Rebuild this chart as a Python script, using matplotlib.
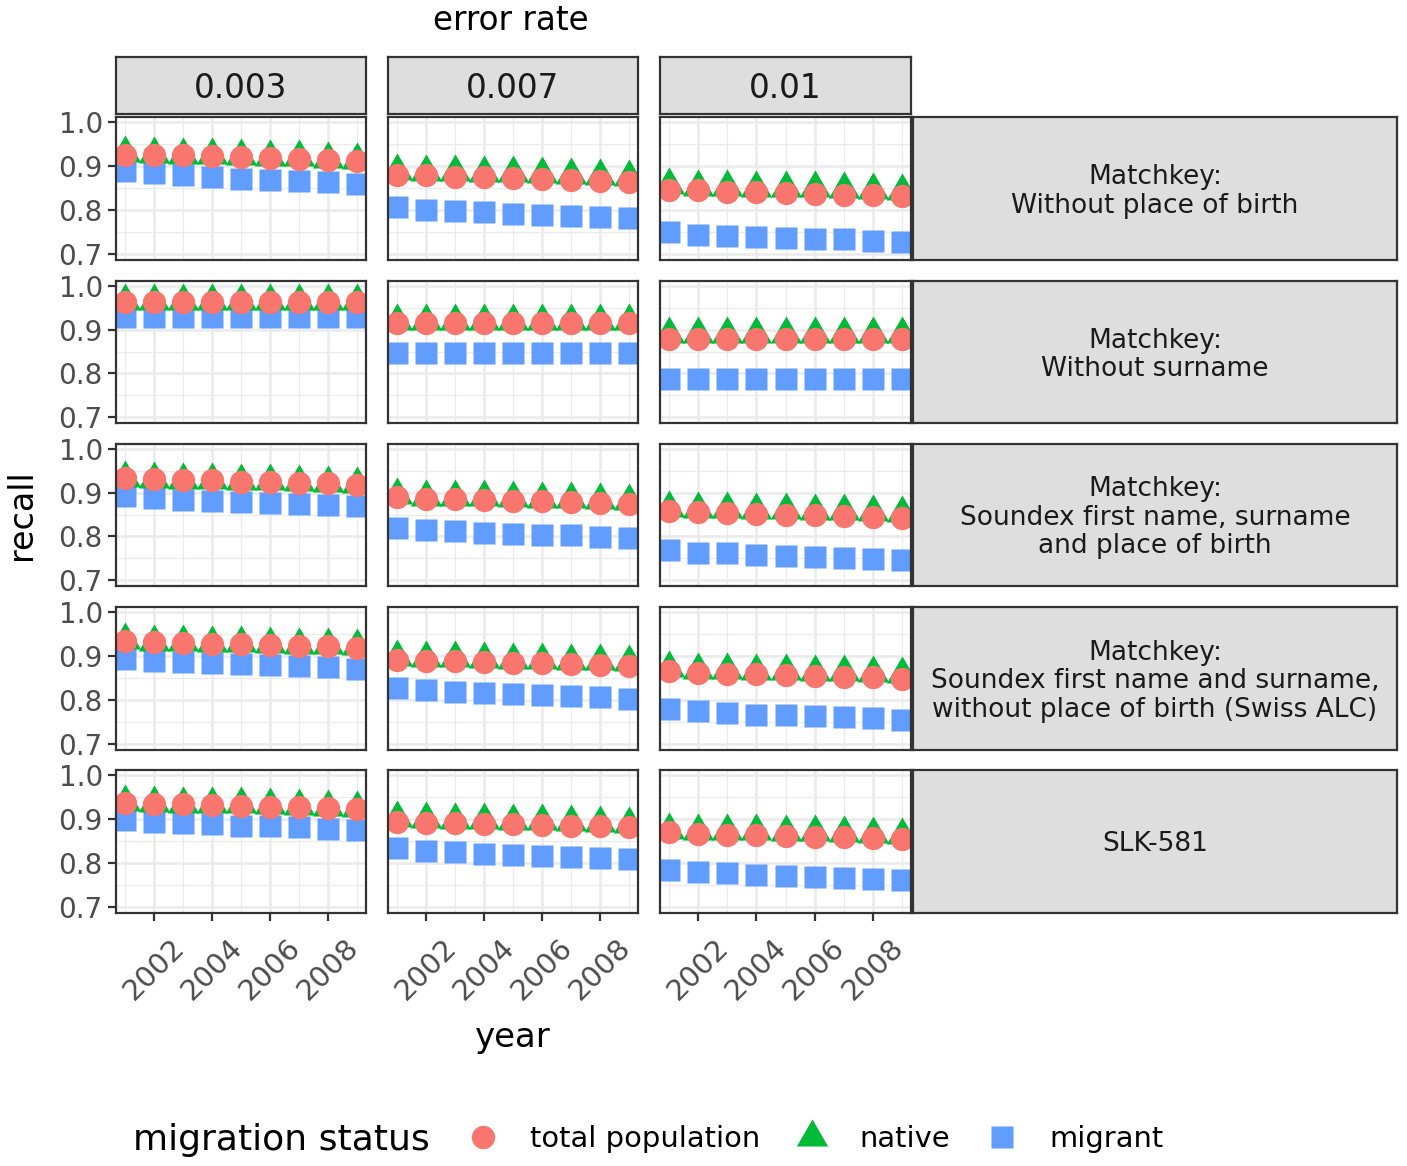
import numpy as np
import matplotlib
matplotlib.use("Agg")
import matplotlib.pyplot as plt
from matplotlib.path import Path
from matplotlib.lines import Line2D
from matplotlib.ticker import FixedLocator

# ---------------- data ----------------
years = [2001, 2002, 2003, 2004, 2005, 2006, 2007, 2008, 2009]
error_rates = ["0.003", "0.007", "0.01"]
matchkeys = [
    "Matchkey:\nWithout place of birth",
    "Matchkey:\nWithout surname",
    "Matchkey:\nSoundex first name, surname\nand place of birth",
    "Matchkey:\nSoundex first name and surname,\nwithout place of birth (Swiss ALC)",
    "SLK-581",
]
status_labels = ["total population", "native", "migrant"]
status_colors = ["#F8766D", "#00BA38", "#619CFF"]

# each: one list per error rate (0.003, 0.007, 0.01)
total_no_pob = [
    [0.926, 0.925, 0.924, 0.922, 0.921, 0.919, 0.917, 0.914, 0.911],
    [0.880, 0.879, 0.876, 0.875, 0.873, 0.871, 0.869, 0.867, 0.864],
    [0.846, 0.845, 0.842, 0.841, 0.839, 0.837, 0.835, 0.833, 0.831],
]
native_no_pob = [
    [0.930, 0.928, 0.926, 0.925, 0.923, 0.921, 0.920, 0.917, 0.914],
    [0.889, 0.887, 0.886, 0.884, 0.883, 0.881, 0.880, 0.878, 0.876],
    [0.857, 0.853, 0.852, 0.851, 0.850, 0.849, 0.848, 0.846, 0.843],
]
migrant_no_pob = [
    [0.889, 0.883, 0.880, 0.875, 0.871, 0.869, 0.867, 0.864, 0.860],
    [0.806, 0.801, 0.798, 0.795, 0.792, 0.789, 0.787, 0.784, 0.782],
    [0.751, 0.744, 0.742, 0.738, 0.736, 0.734, 0.733, 0.729, 0.727],
]

total_no_surname = [
    [0.963, 0.963, 0.963, 0.963, 0.963, 0.963, 0.963, 0.963, 0.963],
    [0.915, 0.915, 0.915, 0.915, 0.915, 0.915, 0.915, 0.915, 0.915],
    [0.879, 0.879, 0.879, 0.879, 0.879, 0.879, 0.879, 0.879, 0.879],
]
native_no_surname = [
    [0.966, 0.966, 0.966, 0.966, 0.966, 0.966, 0.966, 0.966, 0.966],
    [0.920, 0.920, 0.920, 0.920, 0.920, 0.920, 0.920, 0.920, 0.920],
    [0.889, 0.889, 0.889, 0.889, 0.889, 0.889, 0.889, 0.889, 0.889],
]
migrant_no_surname = [
    [0.928, 0.928, 0.928, 0.928, 0.928, 0.928, 0.928, 0.928, 0.928],
    [0.846, 0.846, 0.846, 0.846, 0.846, 0.846, 0.846, 0.846, 0.846],
    [0.787, 0.787, 0.787, 0.787, 0.787, 0.787, 0.787, 0.787, 0.787],
]

total_soundex_pob = [
    [0.933, 0.931, 0.930, 0.928, 0.925, 0.924, 0.923, 0.921, 0.918],
    [0.889, 0.886, 0.885, 0.883, 0.881, 0.880, 0.878, 0.876, 0.873],
    [0.858, 0.855, 0.854, 0.852, 0.850, 0.849, 0.847, 0.845, 0.843],
]
native_soundex_pob = [
    [0.934, 0.932, 0.930, 0.929, 0.927, 0.926, 0.924, 0.923, 0.920],
    [0.895, 0.891, 0.890, 0.889, 0.888, 0.886, 0.886, 0.883, 0.881],
    [0.866, 0.862, 0.862, 0.861, 0.860, 0.858, 0.857, 0.855, 0.853],
]
migrant_soundex_pob = [
    [0.892, 0.887, 0.884, 0.881, 0.879, 0.877, 0.875, 0.872, 0.869],
    [0.820, 0.814, 0.812, 0.808, 0.806, 0.804, 0.802, 0.799, 0.796],
    [0.769, 0.763, 0.761, 0.757, 0.755, 0.753, 0.751, 0.748, 0.745],
]

total_swiss_alc = [
    [0.933, 0.931, 0.930, 0.928, 0.927, 0.925, 0.923, 0.922, 0.919],
    [0.892, 0.889, 0.888, 0.886, 0.885, 0.884, 0.882, 0.880, 0.878],
    [0.865, 0.861, 0.860, 0.858, 0.856, 0.855, 0.853, 0.852, 0.848],
]
native_swiss_alc = [
    [0.936, 0.932, 0.932, 0.930, 0.929, 0.927, 0.926, 0.924, 0.922],
    [0.898, 0.896, 0.895, 0.893, 0.892, 0.891, 0.889, 0.888, 0.886],
    [0.872, 0.868, 0.868, 0.866, 0.866, 0.864, 0.864, 0.861, 0.858],
]
migrant_swiss_alc = [
    [0.894, 0.889, 0.886, 0.883, 0.881, 0.879, 0.877, 0.874, 0.871],
    [0.827, 0.822, 0.819, 0.815, 0.813, 0.811, 0.809, 0.806, 0.803],
    [0.780, 0.774, 0.770, 0.767, 0.765, 0.763, 0.761, 0.758, 0.755],
]

total_slk581 = [
    [0.936, 0.934, 0.933, 0.931, 0.930, 0.928, 0.927, 0.924, 0.922],
    [0.894, 0.892, 0.890, 0.889, 0.888, 0.886, 0.885, 0.883, 0.881],
    [0.870, 0.866, 0.864, 0.863, 0.861, 0.860, 0.858, 0.856, 0.854],
]
native_slk581 = [
    [0.939, 0.936, 0.935, 0.934, 0.933, 0.931, 0.930, 0.928, 0.926],
    [0.902, 0.900, 0.898, 0.897, 0.895, 0.895, 0.893, 0.891, 0.889],
    [0.876, 0.873, 0.873, 0.872, 0.870, 0.870, 0.868, 0.866, 0.864],
]
migrant_slk581 = [
    [0.898, 0.893, 0.890, 0.888, 0.885, 0.883, 0.881, 0.878, 0.875],
    [0.833, 0.827, 0.824, 0.821, 0.819, 0.816, 0.814, 0.812, 0.809],
    [0.785, 0.780, 0.777, 0.773, 0.771, 0.769, 0.766, 0.764, 0.761],
]

total_rows = [total_no_pob, total_no_surname, total_soundex_pob, total_swiss_alc, total_slk581]
native_rows = [native_no_pob, native_no_surname, native_soundex_pob, native_swiss_alc, native_slk581]
migrant_rows = [migrant_no_pob, migrant_no_surname, migrant_soundex_pob, migrant_swiss_alc, migrant_slk581]

x_ticks = [2002, 2004, 2006, 2008]
y_ticks = [0.7, 0.8, 0.9, 1.0]

# ---------------- layout ----------------
W, H = 1407, 1166
fig = plt.figure(figsize=(W / 100, H / 100), dpi=100)
fig.patch.set_facecolor("white")


def rect(x0, y0, x1, y1):
    return [x0 / W, 1 - y1 / H, (x1 - x0) / W, (y1 - y0) / H]


col_x = [(116, 366), (388, 638), (660, 911)]
row_y = [(117, 260), (281, 423), (444, 586), (607, 750), (770, 913)]
strip_fill = "#DEDEDE"
border_col = "#333333"
grid_col = "#EBEBEB"
tick_col = "#4D4D4D"

# centroid-centred equilateral triangle (like R's pch 17)
tri = Path([(0, 2 / np.sqrt(3)), (1, -1 / np.sqrt(3)), (-1, -1 / np.sqrt(3)), (0, 2 / np.sqrt(3))],
           [Path.MOVETO, Path.LINETO, Path.LINETO, Path.CLOSEPOLY])

ms_circle, ms_tri, ms_sq = 16.8, 26, 15.8

for r in range(5):
    for c in range(3):
        ax = fig.add_axes(rect(col_x[c][0], row_y[r][0], col_x[c][1], row_y[r][1]))
        ax.set_xlim(2000.69, 2009.31)
        ax.set_ylim(0.6864, 1.0114)
        ax.xaxis.set_major_locator(FixedLocator(x_ticks))
        ax.xaxis.set_minor_locator(FixedLocator([2001, 2003, 2005, 2007, 2009]))
        ax.yaxis.set_major_locator(FixedLocator(y_ticks))
        ax.yaxis.set_minor_locator(FixedLocator([0.75, 0.85, 0.95]))
        ax.grid(which="major", color=grid_col, lw=1.8)
        ax.grid(which="minor", color=grid_col, lw=0.9)
        ax.set_axisbelow(True)
        for s in ax.spines.values():
            s.set_color(border_col)
            s.set_linewidth(1.6)
            s.set_zorder(5)
        ax.tick_params(which="minor", length=0)
        ax.tick_params(which="major", color=border_col, width=1.6, length=6,
                       labelsize=20, labelcolor=tick_col)
        if c == 0:
            ax.set_yticklabels([f"{v:.1f}" for v in y_ticks])
            ax.tick_params(axis="y", pad=3.5)
        else:
            ax.tick_params(axis="y", length=0, labelleft=False)
        if r == 4:
            ax.set_xticklabels([str(v) for v in x_ticks], rotation=45, ha="center", va="top")
            ax.tick_params(axis="x", pad=8.5, labelsize=21)
        else:
            ax.tick_params(axis="x", length=0, labelbottom=False)

        ax.plot(years, migrant_rows[r][c], ls="none", marker="s", ms=ms_sq,
                mfc=status_colors[2], mec="none", zorder=2)
        ax.plot(years, native_rows[r][c], ls="none", marker=tri, ms=ms_tri,
                mfc=status_colors[1], mec="none", zorder=3)
        ax.plot(years, total_rows[r][c], ls="none", marker="o", ms=ms_circle,
                mfc=status_colors[0], mec="none", zorder=4)

# top strips
for c in range(3):
    sa = fig.add_axes(rect(col_x[c][0], 57, col_x[c][1], 114))
    sa.set_facecolor(strip_fill)
    sa.set_xticks([]); sa.set_yticks([])
    for s in sa.spines.values():
        s.set_color(border_col); s.set_linewidth(1.6)
    sa.text(0.5, 0.44, error_rates[c], ha="center", va="center", fontsize=23.5,
            color="#1A1A1A", transform=sa.transAxes)

# right strips
for r in range(5):
    sa = fig.add_axes(rect(913, row_y[r][0], 1397, row_y[r][1]))
    sa.set_facecolor(strip_fill)
    sa.set_xticks([]); sa.set_yticks([])
    for s in sa.spines.values():
        s.set_color(border_col); s.set_linewidth(1.6)
    sa.text(0.5, 0.48, matchkeys[r], ha="center", va="center", fontsize=19,
            color="#1A1A1A", linespacing=1.12, multialignment="center",
            transform=sa.transAxes)

# titles
fig.text(511 / W, 1 - 20 / H, "error rate", ha="center", va="center", fontsize=23.5)
fig.text(22 / W, 1 - 515 / H, "recall", ha="center", va="center", rotation=90, fontsize=24)
fig.text(513 / W, 1 - 1038 / H, "year", ha="center", va="center", fontsize=24.5)

# legend
fig.text(133 / W, 1 - 1140 / H, "migration status", ha="left", va="center", fontsize=26)
handles = [
    Line2D([], [], ls="none", marker="o", ms=ms_circle, mfc=status_colors[0], mec="none"),
    Line2D([], [], ls="none", marker=tri, ms=ms_tri, mfc=status_colors[1], mec="none"),
    Line2D([], [], ls="none", marker="s", ms=ms_sq, mfc=status_colors[2], mec="none"),
]
fig.legend(handles, status_labels, loc="center left",
           bbox_to_anchor=(468.5 / W, 1 - 1139 / H), ncol=3, frameon=False,
           fontsize=20.9, handlelength=1.0, handletextpad=1.12, columnspacing=1.29,
           borderpad=0, borderaxespad=0, numpoints=1)

fig.savefig("out.png", dpi=100)
